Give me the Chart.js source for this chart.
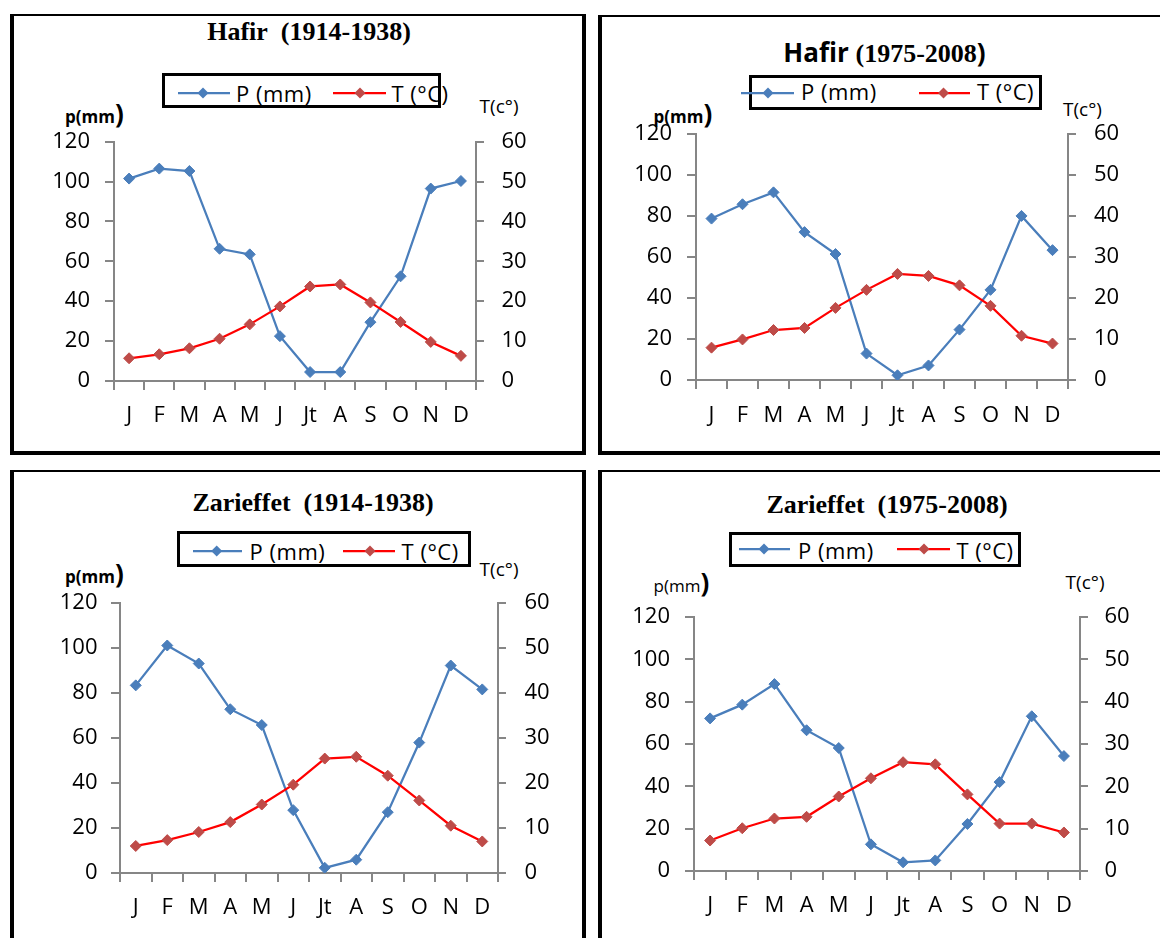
<!DOCTYPE html>
<html><head><meta charset="utf-8">
<script src="https://cdn.jsdelivr.net/npm/chart.js@4.4.1/dist/chart.umd.min.js"></script>
<style>
html,body{margin:0;padding:0;background:#fff;}
body{width:1160px;height:938px;overflow:hidden;position:relative;font-family:'Open Sans',sans-serif;}
.abs{position:absolute;white-space:nowrap;line-height:1.2;}
.frame{position:absolute;box-sizing:border-box;border-style:solid;border-color:#000;}
.leg{position:absolute;box-sizing:border-box;border:3px solid #000;}
canvas{position:absolute;}
.serifb{font-family:'Liberation Serif','Times New Roman',serif;font-weight:bold;}
</style></head><body>
<script>
// ---- data ----
const months = ['J','F','M','A','M','J','Jt','A','S','O','N','D'];
const hafir1914P = [101.5,106.5,105.3,66.3,63.5,22.5,4.5,4.5,29.5,52.5,96.5,100.3];
const hafir1914T = [5.7,6.7,8.2,10.6,14.2,18.7,23.7,24.2,19.7,14.8,9.8,6.3];
const hafir1975P = [78.8,85.8,91.6,72.2,61.5,12.9,2.3,7.1,24.6,44,80.1,63.4];
const hafir1975T = [7.9,9.9,12.2,12.7,17.6,22,25.9,25.4,23.1,18.1,10.8,8.9];
const zar1914P = [83.3,101,93,72.7,65.7,27.9,2.3,5.9,27,57.9,92.1,81.5];
const zar1914T = [6,7.3,9.1,11.3,15.2,19.6,25.4,25.8,21.6,16.1,10.5,7];
const zar1975P = [72.1,78.6,88.3,66.5,58.1,12.6,4.1,5,22.2,42,73.1,54.3];
const zar1975T = [7.2,10.1,12.4,12.8,17.6,21.9,25.7,25.2,18.1,11.2,11.2,9.1];
const pLabel = 'P (mm)';
const tLabel = 'T (°C)';
const pAxisMax = 120, pAxisStep = 20;
const tAxisMax = 60, tAxisStep = 10;

// ---- layout (styles only) ----
const panels = [
  {P:hafir1914P, T:hafir1914T, L:114, R:476, Tp:141, B:381, xPad:12.7, lPad:15, rPad:17.5,
   frame:[10,14,576,441], titleHtml:'<span class="serifb">Hafir&nbsp; (1914-1938)</span>', titleX:309, titleBase:39.5,
   leg:[162,73,279,35], legY:93, b1:[178,230,203], t1:236, r1:[333,386,360], t2:391.5, legBase:101.5,
   pmm:[65,115], tcx:[479.6,113.3]},
  {P:hafir1975P, T:hafir1975T, L:696, R:1068, Tp:133, B:380, xPad:13.9, lPad:15, rPad:18,
   frame:[598,15,600,440], titleHtml:'<span style="font-family:\'Open Sans\';font-weight:bold">Hafir </span><span class="serifb">(1975-2008</span><span style="font-family:\'Open Sans\';font-weight:bold">)</span>', titleX:884.5, titleBase:61,
   leg:[749,75,293,35], legY:93.3, b1:[741,794,768], t1:801, r1:[919,970,943.5], t2:977, legBase:100,
   pmm:[653.6,114.3], tcx:[1063,116.7]},
  {P:zar1914P, T:zar1914T, L:120, R:498, Tp:601, B:873, xPad:12.2, lPad:13.5, rPad:18.5,
   frame:[10,470,576,500], titleHtml:'<span class="serifb">Zarieffet&nbsp; (1914-1938)</span>', titleX:313, titleBase:510,
   leg:[177,531,294,36], legY:550.7, b1:[193,242,216.7], t1:249.6, r1:[343,395,370], t2:401.6, legBase:560,
   pmm:[65,575], tcx:[479.6,577]},
  {P:zar1975P, T:zar1975T, L:694, R:1080, Tp:617, B:871, xPad:12.9, lPad:15, rPad:16.5,
   frame:[598,470,600,500], titleHtml:'<span class="serifb">Zarieffet&nbsp; (1975-2008)</span>', titleX:887, titleBase:512.5,
   leg:[729,532,292,35], legY:549.3, b1:[739,790,764], t1:798, r1:[897,950,924], t2:956.5, legBase:559,
   pmm:[653.6,584], tcx:[1065.6,590], pmmNormal:true}
];

const AX = '#868686';
const BLUE = '#4A7EBB';
const RED_LINE = '#FF0000';
const RED_MARK = '#BE4B48';
const SANS = 'Open Sans';

function el(html){ const d=document.createElement('div'); d.innerHTML=html; const n=d.firstElementChild; document.body.appendChild(n); return n; }

function textAt(html, x, baseline, fs, ascentRatio, extraStyle, center){
  const top = baseline - ascentRatio*fs;
  const n = el(`<div class="abs" style="left:${x}px;top:${top}px;font-size:${fs}px;${extraStyle||''}">${html}</div>`);
  if(center) n.style.transform='translateX(-50%)';
  return n;
}

function legendSym(x1,x2,xm,y,lineColor,markColor){
  const w=x2-x1, m=xm-x1;
  el(`<svg class="abs" style="left:${x1}px;top:${y-8}px" width="${w}" height="16"><line x1="0" y1="8" x2="${w}" y2="8" stroke="${lineColor}" stroke-width="2.25"/><polygon points="${m},2.5 ${m+5.5},8 ${m},13.5 ${m-5.5},8" fill="${markColor}"/></svg>`);
}

function makeChart(p){
  const padL=100, padR=100, padT=30, padB=60;
  const w = p.R - p.L + padL + padR;
  const h = p.B - p.Tp + padT + padB;
  const c = document.createElement('canvas');
  c.width=w; c.height=h;
  c.style.left=(p.L-padL)+'px'; c.style.top=(p.Tp-padT)+'px';
  c.style.width=w+'px'; c.style.height=h+'px';
  document.body.appendChild(c);
  const tickFont = {family:SANS, size:22};
  new Chart(c, {
    type:'line',
    data:{labels:months, datasets:[
      {label:pLabel, data:p.P, yAxisID:'y', order:2, borderColor:BLUE, backgroundColor:BLUE, borderWidth:2.25,
       pointStyle:'rectRot', pointRadius:5.5, pointBackgroundColor:BLUE, pointBorderColor:BLUE, pointBorderWidth:1, tension:0, fill:false},
      {label:tLabel, data:p.T, yAxisID:'y1', order:1, borderColor:RED_LINE, backgroundColor:RED_MARK, borderWidth:2.25,
       pointStyle:'rectRot', pointRadius:5.5, pointBackgroundColor:RED_MARK, pointBorderColor:RED_MARK, pointBorderWidth:1, tension:0, fill:false}
    ]},
    options:{
      responsive:false, animation:false, events:[], devicePixelRatio:1,
      layout:{padding:{top:padT,left:0,right:0,bottom:0}},
      plugins:{legend:{display:false}, title:{display:false}, tooltip:{enabled:false}},
      scales:{
        x:{type:'category', offset:true,
           grid:{offset:true, drawOnChartArea:false, drawTicks:true, tickLength:9, color:AX, lineWidth:2},
           border:{display:true, color:AX, width:2},
           ticks:{color:'#000', font:tickFont, padding:p.xPad, maxRotation:0, autoSkip:false},
           afterFit:(s)=>{s.height=padB;}},
        y:{position:'left', min:0, max:pAxisMax,
           grid:{drawOnChartArea:false, drawTicks:true, tickLength:9, color:AX, lineWidth:2},
           border:{display:true, color:AX, width:2},
           ticks:{stepSize:pAxisStep, color:'#000', font:tickFont, padding:p.lPad},
           afterFit:(s)=>{s.width=padL;}},
        y1:{position:'right', min:0, max:tAxisMax,
           grid:{drawOnChartArea:false, drawTicks:true, tickLength:8, color:AX, lineWidth:2},
           border:{display:true, color:AX, width:2},
           ticks:{stepSize:tAxisStep, color:'#000', font:tickFont, padding:p.rPad},
           afterFit:(s)=>{s.width=padR;}}
      }
    }
  });
}

panels.forEach(p=>{
  const f=p.frame;
  el(`<div class="frame" style="left:${f[0]}px;top:${f[1]}px;width:${f[2]}px;height:${f[3]}px;border-width:2.5px 4px 4.5px 4px"></div>`);
  textAt(p.titleHtml, p.titleX, p.titleBase, 26, 0.9375, '', true);
  const lg=p.leg;
  el(`<div class="leg" style="left:${lg[0]}px;top:${lg[1]}px;width:${lg[2]}px;height:${lg[3]}px"></div>`);
  legendSym(p.b1[0],p.b1[1],p.b1[2],p.legY,BLUE,BLUE);
  legendSym(p.r1[0],p.r1[1],p.r1[2],p.legY,RED_LINE,RED_MARK);
  textAt(pLabel.replace(' ','&nbsp;'), p.t1, p.legBase, 22, 0.988, 'letter-spacing:0.5px', false);
  textAt(tLabel.replace(' ','&nbsp;'), p.t2, p.legBase, 22, 0.988, 'letter-spacing:0.5px', false);
  const w = p.pmmNormal ? 'normal' : 'bold';
  textAt(`<span style="font-weight:${w}">p(mm</span><span style="font-size:26px;font-weight:bold">)</span>`, p.pmm[0], p.pmm[1], 17, 0.988, '', false);
  textAt('T(c°)', p.tcx[0], p.tcx[1], 19, 0.988, '', false);
  makeChart(p);
});
</script>
</body></html>
